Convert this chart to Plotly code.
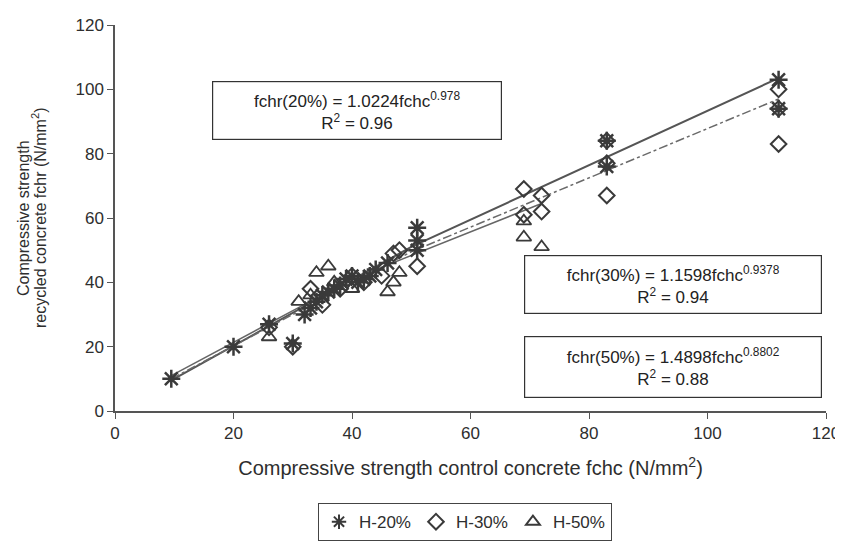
import plotly.graph_objects as go

# ---- data ----
h20_x = [9.5, 20, 26, 30, 32, 33, 34, 35, 36, 37, 38, 39, 40, 41, 42, 43, 44, 46, 51, 51, 51, 83, 83, 112, 112]
h20_y = [10, 20, 27, 21, 30, 32, 34, 36, 37, 38, 39, 41, 42, 40, 41, 42, 44, 46, 57, 53, 50, 84, 76, 103, 94]

h30_x = [26, 30, 33, 35, 38, 40, 42, 45, 47, 48, 51, 69, 69, 72, 72, 83, 83, 83, 112, 112, 112]
h30_y = [26, 20, 38, 33, 38, 42, 40, 42, 49, 50, 45, 69, 61, 67, 62, 84, 77, 67, 100, 94, 83]

h50_x = [26, 31, 33, 34, 36, 37, 40, 46, 47, 48, 69, 69, 72]
h50_y = [23, 34, 36, 43, 45, 40, 38, 37, 40, 43, 59, 54, 51]

# trend lines
fit20_x = [9.5, 50, 112]
fit20_y = [9.5, 51, 103.5]
fit30_x = [9.5, 50, 112]
fit30_y = [10, 49.5, 97]
fit50_x = [9.5, 40, 72]
fit50_y = [11, 41, 64.5]

eq_texts = [
    "fchr(20%) = 1.0224fchc<sup>0.978</sup><br>R<sup>2</sup> = 0.96",
    "fchr(30%) = 1.1598fchc<sup>0.9378</sup><br>R<sup>2</sup> = 0.94",
    "fchr(50%) = 1.4898fchc<sup>0.8802</sup><br>R<sup>2</sup> = 0.88",
]
eq_x = [40.9, 94.2, 94.2]
eq_y = [93.4, 39.2, 13.7]
eq_w = [286, 294, 294]
eq_h = [55, 55, 58]

y_title_lines = ["Compressive strength", "recycled concrete fchr (N/mm<sup>2</sup>)"]
x_title = "Compressive strength control concrete fchc (N/mm<sup>2</sup>)"

x_ticks = [0, 20, 40, 60, 80, 100, 120]
y_ticks = [0, 20, 40, 60, 80, 100, 120]

FONT = "Liberation Sans, Arial, sans-serif"
DARK = "#3a3a3a"
TXT = "#2e2e2e"

fig = go.Figure()

fig.add_trace(go.Scatter(x=fit20_x, y=fit20_y, mode="lines", showlegend=False,
                         line=dict(color="#555555", width=2), hoverinfo="skip"))
fig.add_trace(go.Scatter(x=fit50_x, y=fit50_y, mode="lines", showlegend=False,
                         line=dict(color="#666666", width=1.5), hoverinfo="skip"))
fig.add_trace(go.Scatter(x=fit30_x, y=fit30_y, mode="lines", showlegend=False,
                         line=dict(color="#6a6a6a", width=1.5, dash="dashdot"), hoverinfo="skip"))

fig.add_trace(go.Scatter(x=h50_x, y=h50_y, mode="markers", name="H-50%",
                         marker=dict(symbol="triangle-up-open", size=13, color=DARK,
                                     line=dict(width=1.8, color=DARK))))
fig.add_trace(go.Scatter(x=h30_x, y=h30_y, mode="markers", name="H-30%",
                         marker=dict(symbol="diamond-open", size=12, color=DARK,
                                     line=dict(width=2, color=DARK))))
fig.add_trace(go.Scatter(x=h20_x, y=h20_y, mode="markers", name="H-20%",
                         marker=dict(symbol="asterisk-open", size=15, color=DARK,
                                     line=dict(width=2.5, color="#4a4a4a"))))

for t, xx, yy, ww, hh in zip(eq_texts, eq_x, eq_y, eq_w, eq_h):
    fig.add_annotation(x=xx, y=yy, xref="x", yref="y", text=t, showarrow=False,
                       font=dict(family=FONT, size=17, color="#222"),
                       align="center", width=ww, height=hh,
                       bordercolor="#333", borderwidth=1.2, bgcolor="white")

# two-line y title drawn as two rotated texts (tight line spacing as in the reference)
for txt, shift in zip(y_title_lines, [-92, -76]):
    fig.add_annotation(x=0, y=0.5, xref="paper", yref="paper", text=txt,
                       showarrow=False, textangle=-90, xanchor="center", yanchor="middle",
                       xshift=shift, font=dict(family=FONT, size=16, color=TXT))

fig.update_xaxes(range=[0, 120], tickvals=x_ticks, showline=True, linecolor="#555",
                 linewidth=1.5, ticks="outside", ticklen=6, tickcolor="#555",
                 showgrid=False, zeroline=False, automargin=False,
                 tickfont=dict(family=FONT, size=17, color=TXT),
                 title=dict(text=x_title,
                            font=dict(family=FONT, size=20, color=TXT), standoff=19))
fig.update_yaxes(range=[0, 120], tickvals=y_ticks, showline=True, linecolor="#555",
                 linewidth=1.5, ticks="outside", ticklen=6, tickcolor="#555",
                 showgrid=False, zeroline=False, automargin=False,
                 tickfont=dict(family=FONT, size=17, color=TXT))

fig.update_layout(
    width=835, height=544,
    margin=dict(l=107, r=17, t=17, b=140),
    plot_bgcolor="white", paper_bgcolor="white",
    font=dict(family=FONT, color=TXT),
    legend=dict(orientation="h", x=0.492, xanchor="center", y=-0.235, yanchor="top",
                bordercolor="#444", borderwidth=1.2, traceorder="reversed",
                itemsizing="constant",
                font=dict(family=FONT, size=17, color=TXT),
                itemwidth=30),
)

fig.write_html("out.html")
